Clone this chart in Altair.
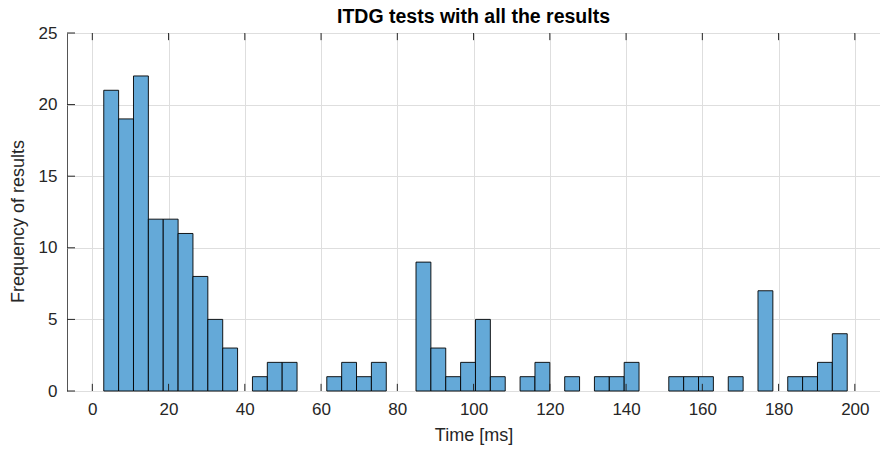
import altair as alt
import pandas as pd

# Histogram bins (ms)
bin_start = 3.0
bin_width = 3.9
counts = [21, 19, 22, 12, 12, 11, 8, 5, 3, 0,
          1, 2, 2, 0, 0, 1, 2, 1, 2, 0,
          0, 9, 3, 1, 2, 5, 1, 0, 1, 2,
          0, 1, 0, 1, 1, 2, 0, 0, 1, 1,
          1, 0, 1, 0, 7, 0, 1, 1, 2, 4]
x_ticks = [0, 20, 40, 60, 80, 100, 120, 140, 160, 180, 200]
y_ticks = [0, 5, 10, 15, 20, 25]
x_domain = [-6.64, 206.6]
y_domain = [0, 25]

rows = []
for i, c in enumerate(counts):
    if c > 0:
        rows.append({"start": bin_start + i * bin_width,
                     "end": bin_start + (i + 1) * bin_width,
                     "count": c, "base": 0})
bars_df = pd.DataFrame(rows)

W, H = 813, 358
FONT = "Liberation Sans"
AX = "#262626"

xs = alt.Scale(domain=x_domain, nice=False, zero=False)
ys = alt.Scale(domain=y_domain, nice=False)
xaxis = alt.Axis(values=x_ticks, title="Time [ms]", grid=True,
                 tickSize=0, domain=False, labelPadding=10, titlePadding=9)
yaxis = alt.Axis(values=y_ticks, title="Frequency of results",
                 grid=True, tickSize=0, domain=False,
                 labelPadding=10, titlePadding=11, titleY=188)

bars = alt.Chart(bars_df).mark_bar(
    fill="#64a9d8", stroke="#000000", strokeWidth=0.9, opacity=1
).encode(
    x=alt.X("start:Q", scale=xs, axis=xaxis),
    x2="end:Q",
    y=alt.Y("count:Q", scale=ys, axis=yaxis),
    y2="base:Q",
)

# inward tick marks (MATLAB style)
xt_len = 0.5
yt_len = 2.1
xt_df = pd.DataFrame({"x": x_ticks * 2,
                      "y": [0] * len(x_ticks) + [25] * len(x_ticks),
                      "y2": [xt_len] * len(x_ticks) + [25 - xt_len] * len(x_ticks)})
yt_df = pd.DataFrame({"y": y_ticks,
                      "x": [x_domain[0]] * len(y_ticks),
                      "x2": [x_domain[0] + yt_len] * len(y_ticks)})

xtick = alt.Chart(xt_df).mark_rule(color=AX, strokeWidth=1).encode(
    x=alt.X("x:Q", scale=xs, axis=xaxis), y=alt.Y("y:Q", scale=ys, axis=yaxis), y2="y2:Q")
ytick = alt.Chart(yt_df).mark_rule(color=AX, strokeWidth=1).encode(
    y=alt.Y("y:Q", scale=ys, axis=yaxis), x=alt.X("x:Q", scale=xs, axis=xaxis), x2="x2:Q")

chart = alt.layer(bars, xtick, ytick).properties(
    width=W, height=H,
    background="white",
    title=alt.TitleParams("ITDG tests with all the results", fontSize=19.5,
                          fontWeight="bold", font=FONT, color="#000000",
                          anchor="middle", offset=-3),
    padding={"left": 67, "top": 33, "right": 0, "bottom": 65},
    autosize=alt.AutoSizeParams(type="none"),
).configure_view(
    stroke="#555555", strokeWidth=1
).configure_axis(
    labelFont=FONT, titleFont=FONT, labelFontSize=17, titleFontSize=18,
    labelColor=AX, titleColor=AX, titleFontWeight="normal",
    gridColor="#dedede", gridWidth=1
)

chart.save("out.html", embed_options={"renderer": "svg", "actions": False})
